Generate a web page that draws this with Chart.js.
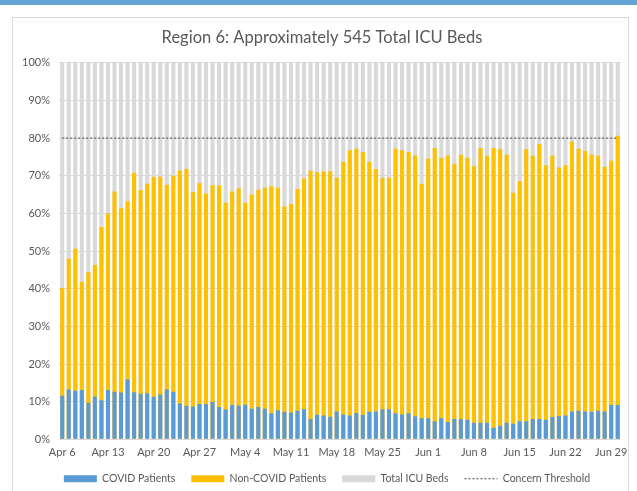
<!DOCTYPE html>
<html>
<head>
<meta charset="utf-8">
<script src="https://cdn.jsdelivr.net/npm/chart.js@4.4.1/dist/chart.umd.min.js"></script>
<style>
  html, body { margin: 0; padding: 0; background: #fff; }
  body { width: 637px; height: 491px; overflow: hidden; position: relative; }
  #band { position: absolute; left: 0; top: 0; width: 637px; height: 5px; background: #64a2d8; }
  #frame { position: absolute; left: 12px; top: 17px; width: 617px; height: 480px;
           border: 1px solid #d9d9d9; box-sizing: border-box; }
</style>
</head>
<body>
<div id="band"></div>
<div id="frame"><canvas id="myChart"></canvas></div>
<script>
// Days shown on the category axis (Apr 6 to Jun 30)
const categories = [
  'Apr 6','Apr 7','Apr 8','Apr 9','Apr 10','Apr 11','Apr 12','Apr 13','Apr 14','Apr 15',
  'Apr 16','Apr 17','Apr 18','Apr 19','Apr 20','Apr 21','Apr 22','Apr 23','Apr 24','Apr 25',
  'Apr 26','Apr 27','Apr 28','Apr 29','Apr 30',
  'May 1','May 2','May 3','May 4','May 5','May 6','May 7','May 8','May 9','May 10',
  'May 11','May 12','May 13','May 14','May 15','May 16','May 17','May 18','May 19','May 20',
  'May 21','May 22','May 23','May 24','May 25','May 26','May 27','May 28','May 29','May 30','May 31',
  'Jun 1','Jun 2','Jun 3','Jun 4','Jun 5','Jun 6','Jun 7','Jun 8','Jun 9','Jun 10',
  'Jun 11','Jun 12','Jun 13','Jun 14','Jun 15','Jun 16','Jun 17','Jun 18','Jun 19','Jun 20',
  'Jun 21','Jun 22','Jun 23','Jun 24','Jun 25','Jun 26','Jun 27','Jun 28','Jun 29','Jun 30'
];

// Labels printed under the axis
const tickLabels = ['Apr 6','Apr 13','Apr 20','Apr 27','May 4','May 11','May 18','May 25',
  'Jun 1','Jun 8','Jun 15','Jun 22','Jun 29'];

// % of ICU beds used by COVID patients
const covidPct = [
  11.6,13.2,12.9,13.1,9.7,11.4,10.4,13.1,12.6,12.4,
  15.9,12.5,12.1,12.2,11.3,11.9,13.2,12.6,9.5,8.9,
  8.7,9.4,9.4,9.9,8.6,7.9,9.1,9.0,9.2,8.1,
  8.6,8.1,6.9,7.7,7.3,7.1,7.6,8.0,5.4,6.5,
  6.3,6.0,7.4,6.6,6.3,7.0,6.5,7.3,7.4,8.0,
  8.0,6.9,6.6,6.9,6.1,5.6,5.6,4.8,5.6,4.6,
  5.4,5.4,5.2,4.4,4.4,4.4,3.1,3.6,4.4,4.1,
  4.8,4.8,5.4,5.4,5.2,5.9,6.1,6.3,7.4,7.6,
  7.4,7.3,7.6,7.4,9.1,9.1
];

// % of ICU beds occupied in total (COVID + non-COVID)
const occupiedPct = [
  40.2,48.0,50.6,41.8,44.4,46.3,56.4,60.0,65.8,61.4,
  63.2,70.8,66.2,67.9,69.7,69.8,67.6,70.0,71.4,71.8,
  65.7,68.0,65.3,67.5,67.5,62.8,65.8,66.7,62.8,65.0,
  66.3,66.8,67.2,66.8,61.8,62.5,66.5,69.3,71.3,70.9,
  71.1,71.2,69.5,73.7,76.8,77.2,76.3,73.7,71.8,69.4,
  69.5,77.2,76.8,76.3,75.4,67.9,74.5,77.4,74.7,75.4,
  73.2,75.6,74.8,72.6,77.4,75.3,77.4,77.1,75.6,65.5,
  68.6,77.1,75.3,78.4,72.8,75.4,72.2,72.8,79.1,77.2,
  76.6,75.6,75.3,72.4,74.0,80.6
];

const totalBedsPct = 100;
const concernThreshold = 80;

const textColor = '#595959';
const baseFont = { family: 'Lato', size: 11 };

// nudge title and legend a little to the right, like the original
const shiftBlocks = {
  id: 'shiftBlocks',
  afterLayout(chart) {
    chart.titleBlock.left += 5;
    chart.titleBlock.right += 5;
    chart.legend.left += 10;
    chart.legend.right += 10;
  }
};

const canvas = document.getElementById('myChart');
const ctx = canvas.getContext('2d');

const chart = new Chart(ctx, {
  type: 'bar',
  data: {
    labels: categories,
    datasets: [
      {
        label: 'COVID Patients',
        data: covidPct,
        backgroundColor: '#5b9bd5',
        grouped: false,
        order: 1
      },
      {
        label: 'Non-COVID Patients',
        data: occupiedPct,
        backgroundColor: '#ffc000',
        grouped: false,
        order: 2
      },
      {
        label: 'Total ICU Beds',
        data: categories.map(() => totalBedsPct),
        backgroundColor: '#d9d9d9',
        grouped: false,
        order: 3
      },
      {
        type: 'line',
        label: 'Concern Threshold',
        data: categories.map(() => concernThreshold),
        borderColor: '#404040',
        borderWidth: 1,
        borderDash: [2, 2],
        pointRadius: 0,
        order: 0
      }
    ]
  },
  options: {
    responsive: true,
    maintainAspectRatio: false,
    animation: false,
    barPercentage: 0.62,
    categoryPercentage: 1,
    layout: { padding: { left: 0, right: 7, top: 0, bottom: 2 } },
    plugins: {
      title: {
        display: true,
        text: 'Region 6: Approximately 545 Total ICU Beds',
        color: textColor,
        font: { family: 'Lato', size: 16.5, weight: 'normal' },
        padding: { top: 10, bottom: 15 }
      },
      legend: {
        position: 'bottom',
        labels: {
          color: textColor,
          font: { family: 'Lato', size: 10.5 },
          usePointStyle: true,
          pointStyleWidth: 33,
          boxHeight: 7,
          padding: 16,
          generateLabels(chart) {
            const items = Chart.defaults.plugins.legend.labels.generateLabels(chart);
            items.forEach(it => {
              if (it.datasetIndex === 3) {
                it.pointStyle = 'line';
                it.lineDash = [2, 2];
                it.strokeStyle = '#404040';
                it.lineWidth = 1;
              } else {
                it.pointStyle = 'rect';
                it.lineWidth = 0;
              }
            });
            return items.sort((a, b) => a.datasetIndex - b.datasetIndex);
          }
        }
      },
      tooltip: { enabled: false }
    },
    scales: {
      x: {
        grid: { display: false, drawTicks: false },
        border: { display: false },
        ticks: {
          color: textColor,
          font: baseFont,
          autoSkip: false,
          maxRotation: 0,
          padding: 7,
          callback: (v, i) => tickLabels.includes(categories[i]) ? categories[i] : ''
        },
        afterFit: (scale) => { scale.height -= 9; }
      },
      y: {
        min: 0,
        max: 100,
        grid: { color: '#d9d9d9', drawTicks: false },
        border: { display: false },
        ticks: {
          stepSize: 10,
          color: textColor,
          font: baseFont,
          padding: 9,
          callback: (v) => v + '%'
        }
      }
    }
  },
  plugins: [shiftBlocks]
});
</script>
</body>
</html>
